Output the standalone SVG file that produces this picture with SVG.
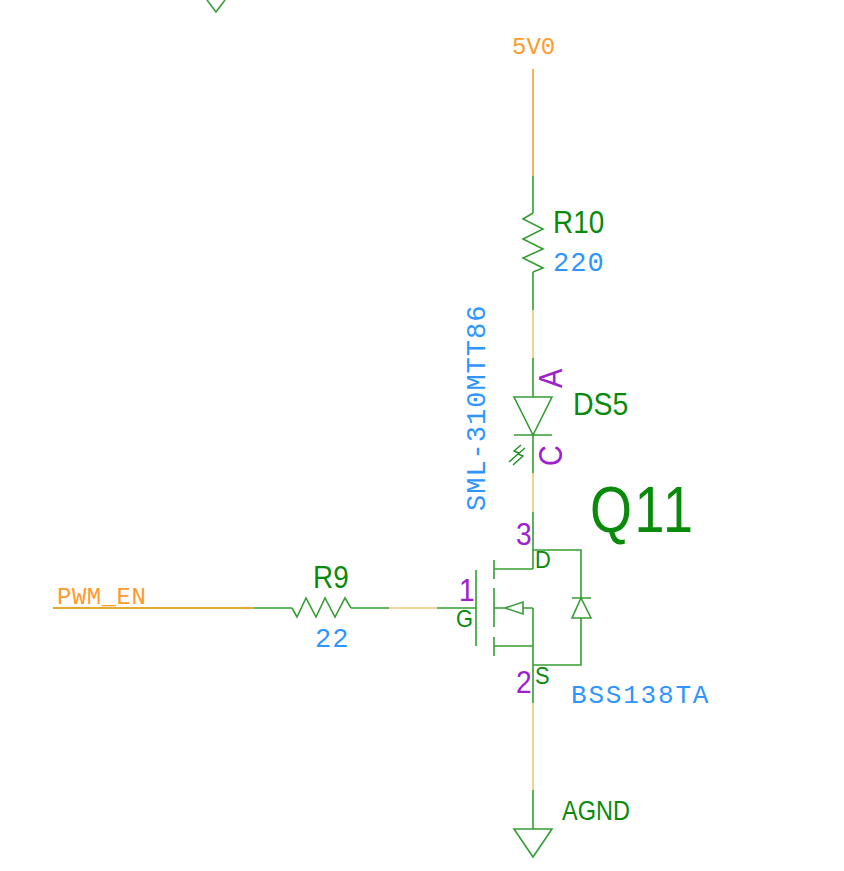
<svg xmlns="http://www.w3.org/2000/svg" width="844" height="871" viewBox="0 0 844 871">
<style>
.s{fill:none;stroke:#349e34;stroke-width:1.6;stroke-linejoin:miter}
.o{fill:none;stroke:#e6a82e;stroke-width:1.6}
.l{fill:none;stroke:#eec77c;stroke-width:1.6}
text{font-family:"Liberation Sans",Arial,sans-serif}
.g{fill:#0a8a0a}
.b{fill:#2f95ff;font-family:"Liberation Mono","Courier New",monospace;letter-spacing:1px}
.p{fill:#a020d0}
.n{fill:#ff9a2e;font-family:"Liberation Mono","Courier New",monospace}
</style>
<g id="connectors">
<path class="o" d="M533 69V176"/>
<path class="s" d="M533 176V213M533 272V310"/>
<path class="l" d="M533 310V358"/>
<path class="s" d="M533 358V397M533 435V473"/>
<path class="l" d="M533 473V512"/>
<path class="s" d="M533 512V569M533 608V703"/>
<path class="l" d="M533 703V790"/>
<path class="s" d="M533 790V829"/>
<path class="o" d="M53 608H254" style="stroke-width:2"/>
<path class="s" d="M254 608H292M351 608H389"/>
<path class="l" d="M389 608H437"/>
<path class="s" d="M437 608H476"/>
</g>
<g id="gnd-top"><path class="s" d="M207 0L216 12L225 0"/></g>
<g id="V5V0"><text class="n" x="512" y="54" font-size="24">5V0</text></g>
<g id="R10">
<path class="s" d="M533 213L523 219L543 229L523 239L543 249L523 258L543 268L533 272"/>
<text class="g" transform="translate(553 233) scale(.9 1)" font-size="31">R10</text>
<text class="b" x="553" y="271" font-size="27">220</text>
</g>
<g id="DS5">
<path class="s" d="M514 397H552L533 435ZM514 435H552"/>
<path class="s" style="stroke-width:1.4;stroke:#1f8f1f" d="M521 445L514 451L519 453L509 462M525 448L518 454L523 456L513 465"/>
<text class="g" transform="translate(573 415) scale(.92 1)" font-size="31">DS5</text>
<text class="p" transform="translate(562 388) rotate(-90) scale(.85 1)" font-size="34">A</text>
<text class="p" transform="translate(562 466) rotate(-90) scale(.85 1)" font-size="34">C</text>
<text class="b" transform="translate(485 511) rotate(-90)" font-size="27">SML-310MTT86</text>
</g>
<g id="Q11">
<path class="s" d="M533 569H494M494 560V579M494 588V627M494 637V656M494 646H533M476 570V646M494 608H505M505 608L523 602V614ZM523 608H533M533 550H581V598M581 618V665H533"/>
<path class="s" d="M572 598H591M581 598L572 618H591Z"/>
<text class="g" transform="translate(590 532) scale(.83 1)" font-size="65" letter-spacing="3">Q11</text>
<text class="p" transform="translate(516 545) scale(.88 1)" font-size="32">3</text>
<text class="p" transform="translate(459 601) scale(.88 1)" font-size="32">1</text>
<text class="p" transform="translate(516 693) scale(.88 1)" font-size="32">2</text>
<text class="g" transform="translate(535 568) scale(.95 1)" font-size="23">D</text>
<text class="g" transform="translate(456 627) scale(.95 1)" font-size="23">G</text>
<text class="g" transform="translate(535 684) scale(.95 1)" font-size="23">S</text>
<text class="b" x="571" y="703" font-size="26" style="letter-spacing:1.8px">BSS138TA</text>
</g>
<g id="R9">
<path class="s" d="M292 608L297 617L306 598L316 617L325 598L335 617L345 598L351 608"/>
<text class="g" transform="translate(313 588) scale(.9 1)" font-size="31">R9</text>
<text class="b" x="315" y="647" font-size="27">22</text>
</g>
<g id="PWM_EN"><text class="n" x="57" y="604" font-size="24" letter-spacing="0.5">PWM_EN</text></g>
<g id="AGND">
<path class="s" d="M514 829H552L533 857Z"/>
<text class="g" transform="translate(562 820) scale(.87 1)" font-size="27">AGND</text>
</g>
</svg>
